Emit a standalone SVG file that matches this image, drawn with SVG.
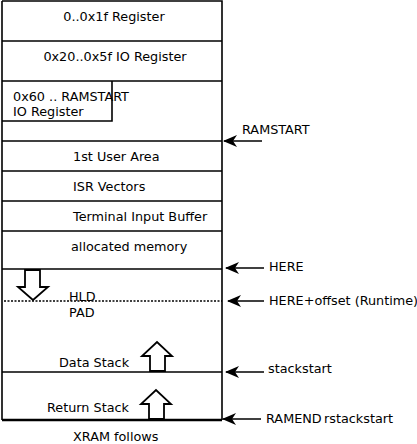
<svg xmlns="http://www.w3.org/2000/svg" width="417" height="444" viewBox="0 0 417 444">
<defs>
<marker id="ah" markerWidth="14" markerHeight="12" refX="13" refY="6" orient="auto" markerUnits="userSpaceOnUse">
<path d="M0,0 L14,6 L0,12 L4,6 Z" fill="#000"/>
</marker>
<style>
text{font-family:"DejaVu Sans",sans-serif;font-size:12.8px;fill:#000}
.l{stroke:#000;stroke-width:1.6;fill:none}
.big{fill:#fff;stroke:#000;stroke-width:1.8}
</style>
</defs>
<rect width="417" height="444" fill="#fff"/>
<g id="memory">
<path class="l" d="M2,1 H222 V420 M2,1 V420"/>
<line class="l" x1="2" y1="41" x2="222" y2="41"/>
<line class="l" x1="2" y1="81" x2="222" y2="81"/>
<path class="l" d="M2,121 H112 V81"/>
<line class="l" x1="2" y1="141" x2="222" y2="141"/>
<line class="l" x1="2" y1="171" x2="222" y2="171"/>
<line class="l" x1="2" y1="201" x2="222" y2="201"/>
<line class="l" x1="2" y1="231" x2="222" y2="231"/>
<line class="l" x1="2" y1="269" x2="222" y2="269"/>
<line x1="4" y1="301" x2="222" y2="301" stroke="#000" stroke-width="1.6" stroke-dasharray="2,1.5"/>
<line class="l" x1="2" y1="372" x2="222" y2="372"/>
<line x1="2" y1="420" x2="222" y2="420" stroke="#000" stroke-width="2.4"/>
</g>
<g id="labels">
<text x="114" y="21" text-anchor="middle">0..0x1f Register</text>
<text x="115" y="61" text-anchor="middle">0x20..0x5f IO Register</text>
<text x="13" y="101">0x60 .. RAMSTART</text>
<text x="13" y="116">IO Register</text>
<text x="73" y="161">1st User Area</text>
<text x="73" y="191">ISR Vectors</text>
<text x="73" y="221">Terminal Input Buffer</text>
<text x="71" y="251">allocated memory</text>
<text x="69" y="301">HLD</text>
<text x="69" y="317">PAD</text>
<text x="59" y="367">Data Stack</text>
<text x="47" y="412">Return Stack</text>
<text x="73" y="441">XRAM follows</text>
</g>
<g id="growth">
<path class="big" d="M25,270 H40 V287 H48 L33,300 L18,287 H25 Z"/>
<path class="big" d="M150,371 V356 H142 L157,342 L172,356 H165 V371 Z"/>
<path class="big" d="M149,419 V404 H141 L156,390 L171,404 H164 V419 Z"/>
</g>
<g id="connectors">
<line class="l" x1="262" y1="141" x2="224" y2="141" marker-end="url(#ah)"/>
<line class="l" x1="264" y1="268" x2="226" y2="268" marker-end="url(#ah)"/>
<line class="l" x1="264" y1="301" x2="228" y2="301" marker-end="url(#ah)"/>
<line class="l" x1="264" y1="372" x2="226" y2="372" marker-end="url(#ah)"/>
<line class="l" x1="261" y1="419" x2="223" y2="419" marker-end="url(#ah)"/>
</g>
<g id="pointers">
<text x="242" y="134">RAMSTART</text>
<text x="269" y="271">HERE</text>
<text x="269" y="305">HERE+offset (Runtime)</text>
<text x="268" y="373">stackstart</text>
<text x="266" y="423">RAMEND</text>
<text x="324" y="423">rstackstart</text>
</g>
</svg>
